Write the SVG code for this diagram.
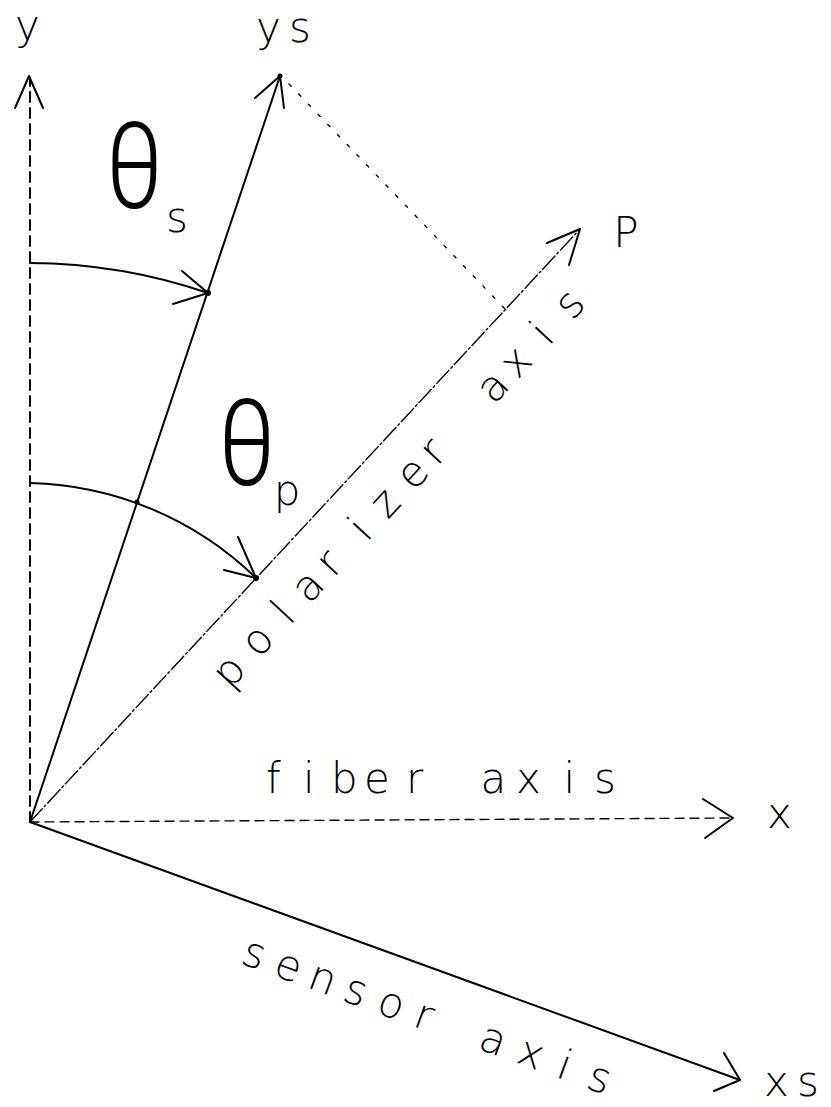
<svg xmlns="http://www.w3.org/2000/svg" width="831" height="1107" viewBox="0 0 831 1107">
<style>
.ln{fill:none;stroke:#000;stroke-width:2;stroke-linecap:round;stroke-linejoin:round}
.thin{stroke-width:1.4}
.dot{fill:#000}
.t{font-family:"DejaVu Sans","Liberation Sans",sans-serif;font-weight:200;font-size:42px;fill:#000}
.th{font-family:Roboto,"DejaVu Sans",sans-serif;font-weight:300;font-size:100px}
</style>
<rect width="831" height="1107" fill="#fff"/>
<g id="connectors">
  <g id="y-axis">
    <line class="ln" x1="30" y1="822" x2="30" y2="78" stroke-dasharray="10 6"/>
    <polyline class="ln" points="15,108 29,76 43,108"/>
  </g>
  <g id="ys-axis">
    <line class="ln" x1="30" y1="822" x2="280" y2="76"/>
    <polyline class="ln" points="255,98 280,76 284,108"/>
    <circle class="dot" cx="280" cy="76" r="2.5"/>
  </g>
  <g id="projection">
    <line class="ln thin" x1="289" y1="84" x2="507" y2="311" stroke-dasharray="3 11"/>
  </g>
  <g id="p-axis">
    <line class="ln thin" x1="30" y1="822" x2="580" y2="229" stroke-dasharray="18 3 2 3"/>
    <polyline class="ln" points="547,243 580,229 569,265"/>
  </g>
  <g id="x-axis">
    <line class="ln thin" x1="30" y1="822" x2="733" y2="818" stroke-dasharray="9 6"/>
    <polyline class="ln" points="703,799 733,818 705,838"/>
  </g>
  <g id="xs-axis">
    <line class="ln" x1="30" y1="822" x2="740" y2="1080"/>
    <polyline class="ln" points="724,1053 740,1080 714,1091"/>
  </g>
  <g id="theta-s-arc">
    <path class="ln" d="M30,263 A559,559 0 0 1 208,293"/>
    <polyline class="ln" points="182,271 208,293 173,304"/>
    <circle class="dot" cx="208" cy="293" r="3"/>
  </g>
  <g id="theta-p-arc">
    <path class="ln" d="M30,483 A336,336 0 0 1 256,578"/>
    <polyline class="ln" points="238,537 256,578 224,570"/>
    <circle class="dot" cx="256" cy="578" r="3"/>
    <circle class="dot" cx="137" cy="502" r="2.5"/>
  </g>
</g>
<g id="label-y"><text class="t" x="27.5" y="40" text-anchor="middle">y</text></g>
<g id="label-ys"><text class="t" x="256 289" y="42">ys</text></g>
<g id="label-P"><text class="t" x="626" y="247" text-anchor="middle">P</text></g>
<g id="label-x"><text class="t" x="779.5" y="828" text-anchor="middle">x</text></g>
<g id="label-xs"><text class="t" x="764 797" y="1096">xs</text></g>
<g id="theta-s">
  <text class="t th" transform="translate(134.5,208) scale(1,1.2)" x="0" y="0" text-anchor="middle">θ</text>
  <text class="t" x="177" y="232" text-anchor="middle">s</text>
</g>
<g id="theta-p">
  <text class="t th" transform="translate(247,485) scale(1,1.2)" x="0" y="0" text-anchor="middle">θ</text>
  <text class="t" x="287" y="505" text-anchor="middle">p</text>
</g>
<g id="label-fiber-axis">
  <text class="t" x="266 303 331 364 406 445 480.5 516 563.5 594" y="793">fiber axis</text>
</g>
<g id="label-polarizer-axis" transform="translate(30,822) rotate(-47.15)">
  <text class="t" x="232.5 275 320 349 385 433.5 464.5 503 537 590 621 655.5 700.8 736" y="57">polarizer axis</text>
</g>
<g id="label-sensor-axis" transform="translate(30,822) rotate(19.97)">
  <text class="t" x="245 279.5 315.5 353 389 428 466 497 537.5 579.8 612" y="61 61 61 61 61 61 61 60 60 60 60">sensor axis</text>
</g>
</svg>
